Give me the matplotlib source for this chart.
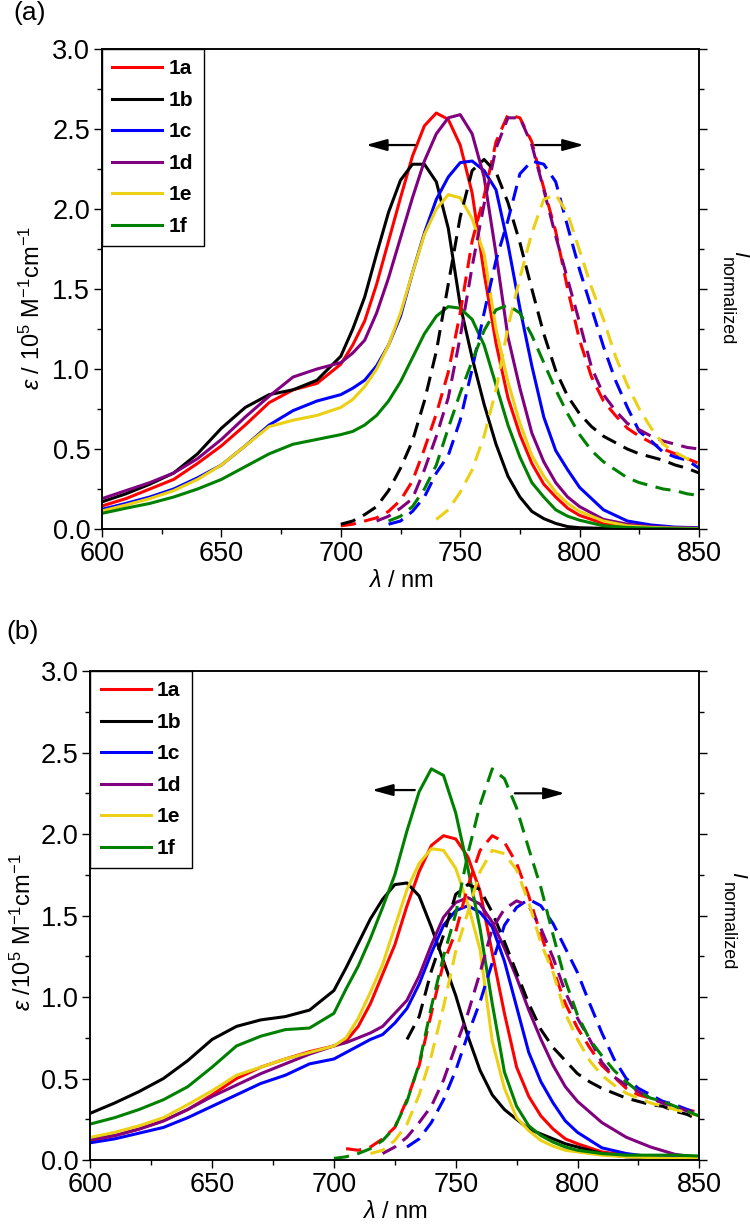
"""
Absorption (solid) and emission (dashed) spectra of 1a-1f, two panels.
"""
import numpy as np
import matplotlib
matplotlib.use('Agg')
import matplotlib.pyplot as plt
from matplotlib.ticker import MultipleLocator, FormatStrFormatter

nan = np.nan

labels = ['1a', '1b', '1c', '1d', '1e', '1f']
colors = ['#ff0000', '#000000', '#0000ff', '#800080', '#ecd014', '#008000']

# wavelength grids (nm)
abs_wl = [600, 610, 620, 630, 640, 650, 660, 670, 680, 690, 700, 705, 710, 715, 720, 725,
          730, 735, 740, 745, 750, 755, 760, 765, 770, 775, 780, 785, 790, 795, 800, 810,
          820, 830, 840, 850]
em_wl = [700, 705, 710, 715, 720, 725, 730, 735, 740, 745, 750, 755, 760, 765, 770, 775,
         780, 785, 790, 795, 800, 805, 810, 815, 820, 825, 830, 835, 840, 845, 850]

# ---- panel (a): absorption, eps / 1e5 M-1 cm-1
a_abs_1a = [0.144, 0.19, 0.25, 0.31, 0.41, 0.52, 0.65, 0.79, 0.87, 0.91, 1.03, 1.15, 1.30, 1.53,
            1.80, 2.07, 2.33, 2.52, 2.60, 2.56, 2.40, 2.10, 1.60, 1.16, 0.82, 0.59, 0.41, 0.28,
            0.20, 0.13, 0.085, 0.035, 0.015, 0.008, 0.005, 0.003]
a_abs_1b = [0.17, 0.22, 0.28, 0.35, 0.47, 0.63, 0.76, 0.84, 0.87, 0.93, 1.08, 1.25, 1.45, 1.72,
            1.98, 2.18, 2.28, 2.28, 2.17, 1.88, 1.40, 1.07, 0.78, 0.53, 0.33, 0.20, 0.11, 0.065,
            0.035, 0.015, 0.008, 0.004, 0.002, 0.001, 0.0, 0.0]
a_abs_1c = [0.123, 0.16, 0.20, 0.25, 0.32, 0.40, 0.52, 0.65, 0.74, 0.80, 0.84, 0.88, 0.93, 1.02,
            1.15, 1.33, 1.60, 1.85, 2.06, 2.20, 2.29, 2.30, 2.24, 2.12, 1.78, 1.38, 1.02, 0.70,
            0.49, 0.37, 0.26, 0.12, 0.05, 0.025, 0.012, 0.008]
a_abs_1d = [0.19, 0.24, 0.29, 0.35, 0.44, 0.56, 0.70, 0.83, 0.95, 1.00, 1.04, 1.10, 1.18, 1.35,
            1.57, 1.82, 2.07, 2.30, 2.47, 2.57, 2.59, 2.47, 2.20, 1.72, 1.20, 0.88, 0.60, 0.42,
            0.29, 0.20, 0.14, 0.06, 0.03, 0.015, 0.008, 0.005]
a_abs_1e = [0.113, 0.15, 0.19, 0.24, 0.31, 0.40, 0.52, 0.64, 0.68, 0.71, 0.76, 0.81, 0.89, 1.00,
            1.15, 1.35, 1.60, 1.84, 2.00, 2.09, 2.07, 1.94, 1.72, 1.25, 0.92, 0.66, 0.46, 0.33,
            0.23, 0.16, 0.11, 0.05, 0.02, 0.01, 0.005, 0.003]
a_abs_1f = [0.098, 0.13, 0.16, 0.20, 0.25, 0.31, 0.39, 0.47, 0.53, 0.56, 0.59, 0.61, 0.65, 0.71,
            0.80, 0.92, 1.07, 1.22, 1.33, 1.39, 1.38, 1.31, 1.15, 0.90, 0.65, 0.45, 0.29, 0.20,
            0.12, 0.08, 0.055, 0.02, 0.01, 0.005, 0.002, 0.0]

# ---- panel (a): emission, normalized
a_em_1a = [0.02, 0.03, 0.05, 0.07, 0.11, 0.18, 0.30, 0.50, 0.72, 0.98, 1.35, 1.80, 2.08, 2.42,
           2.59, 2.57, 2.42, 2.13, 1.86, 1.50, 1.18, 0.95, 0.80, 0.71, 0.63, 0.58, 0.54, 0.50,
           0.47, 0.44, 0.41]
a_em_1b = [0.03, 0.05, 0.09, 0.14, 0.24, 0.38, 0.55, 0.80, 1.11, 1.53, 1.95, 2.24, 2.31, 2.23,
           2.04, 1.79, 1.50, 1.22, 0.99, 0.83, 0.72, 0.64, 0.58, 0.54, 0.50, 0.47, 0.45, 0.43,
           0.40, 0.38, 0.35]
a_em_1c = [nan, nan, nan, nan, 0.03, 0.05, 0.11, 0.20, 0.35, 0.46, 0.68, 1.00, 1.35, 1.68,
           1.93, 2.22, 2.30, 2.28, 2.17, 1.89, 1.62, 1.38, 1.14, 0.93, 0.76, 0.61, 0.55, 0.48,
           0.45, 0.43, 0.38]
a_em_1d = [nan, nan, nan, 0.05, 0.08, 0.13, 0.19, 0.37, 0.58, 0.82, 1.20, 1.64, 2.03, 2.38,
           2.57, 2.57, 2.40, 2.12, 1.83, 1.56, 1.29, 1.01, 0.84, 0.74, 0.66, 0.62, 0.58, 0.55,
           0.53, 0.51, 0.50]
a_em_1e = [nan, nan, nan, nan, nan, nan, nan, nan, 0.06, 0.12, 0.23, 0.37, 0.58, 0.87, 1.26,
           1.57, 1.85, 2.06, 2.09, 1.97, 1.74, 1.51, 1.31, 1.08, 0.90, 0.75, 0.63, 0.53, 0.48,
           0.44, 0.41]
a_em_1f = [nan, nan, nan, nan, 0.05, 0.08, 0.14, 0.25, 0.40, 0.63, 0.85, 1.05, 1.24, 1.37,
           1.40, 1.35, 1.21, 1.04, 0.87, 0.72, 0.59, 0.49, 0.42, 0.37, 0.32, 0.29, 0.27, 0.25,
           0.24, 0.22, 0.21]

# ---- panel (b): absorption
b_abs_1a = [0.118, 0.15, 0.19, 0.24, 0.31, 0.40, 0.50, 0.57, 0.62, 0.665, 0.70, 0.73, 0.82, 0.96,
            1.14, 1.32, 1.56, 1.77, 1.93, 1.99, 1.97, 1.86, 1.65, 1.27, 0.90, 0.57, 0.39, 0.27,
            0.19, 0.13, 0.10, 0.05, 0.03, 0.02, 0.015, 0.01]
b_abs_1b = [0.287, 0.35, 0.42, 0.50, 0.61, 0.74, 0.82, 0.86, 0.88, 0.92, 1.04, 1.18, 1.33, 1.48,
            1.60, 1.69, 1.70, 1.62, 1.43, 1.22, 1.01, 0.76, 0.55, 0.40, 0.31, 0.25, 0.19, 0.16,
            0.13, 0.10, 0.08, 0.04, 0.02, 0.015, 0.01, 0.01]
b_abs_1c = [0.106, 0.13, 0.165, 0.20, 0.26, 0.33, 0.40, 0.47, 0.52, 0.59, 0.62, 0.66, 0.70, 0.74,
            0.77, 0.84, 0.93, 1.08, 1.27, 1.44, 1.53, 1.56, 1.52, 1.43, 1.22, 0.94, 0.66, 0.48,
            0.35, 0.24, 0.17, 0.075, 0.04, 0.02, 0.015, 0.01]
b_abs_1d = [0.128, 0.15, 0.19, 0.24, 0.31, 0.39, 0.46, 0.53, 0.59, 0.65, 0.70, 0.72, 0.75, 0.78,
            0.82, 0.90, 0.98, 1.13, 1.32, 1.49, 1.58, 1.61, 1.57, 1.46, 1.30, 1.12, 0.92, 0.74,
            0.58, 0.45, 0.36, 0.23, 0.14, 0.08, 0.035, 0.015]
b_abs_1e = [0.139, 0.17, 0.21, 0.26, 0.34, 0.425, 0.52, 0.57, 0.62, 0.66, 0.70, 0.75, 0.87, 1.03,
            1.20, 1.43, 1.66, 1.82, 1.91, 1.90, 1.79, 1.57, 1.29, 0.73, 0.44, 0.26, 0.18, 0.12,
            0.085, 0.06, 0.05, 0.03, 0.02, 0.015, 0.01, 0.01]
b_abs_1f = [0.221, 0.26, 0.31, 0.37, 0.45, 0.57, 0.70, 0.76, 0.80, 0.81, 0.90, 1.05, 1.19, 1.36,
            1.55, 1.75, 2.02, 2.26, 2.40, 2.36, 2.13, 1.79, 1.42, 0.96, 0.54, 0.33, 0.21, 0.15,
            0.11, 0.08, 0.06, 0.04, 0.03, 0.03, 0.03, 0.025]

# ---- panel (b): emission
b_em_1a = [nan, 0.07, 0.06, 0.08, 0.13, 0.20, 0.37, 0.58, 0.90, 1.21, 1.40, 1.68, 1.90, 1.99,
           1.95, 1.82, 1.62, 1.38, 1.17, 0.96, 0.81, 0.69, 0.58, 0.51, 0.44, 0.40, 0.38, 0.35,
           0.33, 0.31, 0.29]
b_em_1b = [nan, nan, nan, nan, nan, nan, 0.74, 0.88, 1.16, 1.38, 1.63, 1.69, 1.66, 1.52, 1.34,
           1.15, 0.96, 0.80, 0.69, 0.61, 0.53, 0.48, 0.44, 0.41, 0.38, 0.36, 0.34, 0.33, 0.30,
           0.28, 0.245]
b_em_1c = [nan, nan, nan, nan, nan, nan, 0.08, 0.13, 0.23, 0.37, 0.55, 0.77, 0.97, 1.21, 1.44,
           1.55, 1.60, 1.56, 1.45, 1.30, 1.15, 0.96, 0.78, 0.62, 0.50, 0.44, 0.40, 0.36, 0.34,
           0.31, 0.28]
b_em_1d = [nan, nan, nan, nan, 0.04, 0.08, 0.14, 0.23, 0.33, 0.49, 0.70, 0.90, 1.15, 1.42,
           1.54, 1.59, 1.56, 1.42, 1.24, 1.03, 0.87, 0.74, 0.60, 0.51, 0.46, 0.42, 0.38, 0.35,
           0.33, 0.30, 0.28]
b_em_1e = [nan, nan, nan, 0.04, 0.06, 0.12, 0.22, 0.40, 0.64, 0.94, 1.28, 1.52, 1.77, 1.90,
           1.88, 1.78, 1.58, 1.33, 1.15, 0.90, 0.74, 0.61, 0.52, 0.46, 0.41, 0.38, 0.35, 0.33,
           0.31, 0.29, 0.27]
b_em_1f = [0.01, 0.02, 0.04, 0.07, 0.12, 0.20, 0.36, 0.59, 0.94, 1.25, 1.51, 1.88, 2.18, 2.40,
           2.34, 2.16, 1.91, 1.67, 1.38, 1.10, 0.89, 0.74, 0.64, 0.55, 0.48, 0.42, 0.38, 0.36,
           0.33, 0.30, 0.27]

TICK_FS = 19.5
LABEL_FS = 17


def style_axes(ax, ax_r):
    for a in (ax, ax_r):
        a.set_xlim(600, 850)
        a.set_ylim(0, 3.0)
        for s in a.spines.values():
            s.set_linewidth(1.1)
    ax.xaxis.set_major_locator(MultipleLocator(50))
    ax.xaxis.set_minor_locator(MultipleLocator(25))
    ax.yaxis.set_major_locator(MultipleLocator(0.5))
    ax.yaxis.set_minor_locator(MultipleLocator(0.25))
    ax.yaxis.set_major_formatter(FormatStrFormatter('%.1f'))
    ax.tick_params(which='both', direction='out', width=1.0, labelsize=TICK_FS,
                   top=False, right=False, pad=2.5)
    ax.tick_params(which='major', length=6)
    ax.tick_params(which='minor', length=3.5)
    ax_r.yaxis.set_major_locator(MultipleLocator(0.5))
    ax_r.yaxis.set_minor_locator(MultipleLocator(0.25))
    ax_r.tick_params(which='both', direction='out', width=1.0, labelright=False)
    ax_r.tick_params(which='major', length=6)
    ax_r.tick_params(which='minor', length=3.5)


def plot_panel(fig, rect, abs_sets, em_sets, ylabel, ylabel_xy, i_xy, norm_xy, arrows,
               tag, tag_xy):
    ax = fig.add_axes(rect)
    ax_r = ax.twinx()
    handles = []
    for lab, col, yv in zip(labels, colors, abs_sets):
        h, = ax.plot(abs_wl, yv, color=col, lw=2.2, label=lab)
        handles.append(h)
    for col, yv in zip(colors, em_sets):
        ax_r.plot(em_wl, yv, color=col, lw=2.2, linestyle=(0, (5.0, 2.8)))
    style_axes(ax, ax_r)

    ax.set_xlabel(r'$\lambda$ / nm', fontsize=LABEL_FS, labelpad=2)
    ax.set_ylabel(ylabel, fontsize=LABEL_FS)
    ax.yaxis.set_label_coords(*ylabel_xy)

    # right axis title: italic I with "normalized" set below its baseline
    ax_r.text(i_xy[0], i_xy[1], 'I', transform=ax_r.transAxes, rotation=270,
              fontsize=15, fontstyle='italic', ha='center', va='center', clip_on=False)
    ax_r.text(norm_xy[0], norm_xy[1], 'normalized', transform=ax_r.transAxes, rotation=270,
              fontsize=13, ha='center', va='center', clip_on=False)

    leg = ax_r.legend(handles=handles, loc='upper left', bbox_to_anchor=(0, 1),
                      borderaxespad=0, fancybox=False, framealpha=1, edgecolor='black',
                      handlelength=2.4, handletextpad=0.3, labelspacing=0.6,
                      borderpad=0.5, prop={'weight': 'bold', 'size': 15})
    leg.get_frame().set_linewidth(1.0)

    for x0, x1, y in arrows:
        ax.annotate('', xy=(x1, y), xytext=(x0, y),
                    arrowprops=dict(arrowstyle='-|>,head_length=0.9,head_width=0.25',
                                    mutation_scale=14, color='black', lw=1.6,
                                    shrinkA=0, shrinkB=0))
    fig.text(tag_xy[0], tag_xy[1], tag, fontsize=19, ha='left', va='top')
    return ax


def main():
    plt.rcParams['font.family'] = ['Liberation Sans', 'DejaVu Sans']
    plt.rcParams['mathtext.fontset'] = 'custom'
    plt.rcParams['mathtext.rm'] = 'Liberation Sans'
    plt.rcParams['mathtext.it'] = 'Liberation Sans:italic'
    plt.rcParams['mathtext.bf'] = 'Liberation Sans:bold'

    fig = plt.figure(figsize=(7.5, 12.32), dpi=100)

    plot_panel(fig, [0.136, 0.5706, 0.796, 0.3896],
               [a_abs_1a, a_abs_1b, a_abs_1c, a_abs_1d, a_abs_1e, a_abs_1f],
               [a_em_1a, a_em_1b, a_em_1c, a_em_1d, a_em_1e, a_em_1f],
               r'$\varepsilon$ / 10$^5$ M$^{-1}$cm$^{-1}$', (-0.095, 0.46),
               (1.0687, 0.574), (1.046, 0.475),
               [(731, 710.5, 2.40), (781.3, 801.8, 2.40)], '(a)', (0.018, 0.999))

    plot_panel(fig, [0.1204, 0.0584, 0.812, 0.3969],
               [b_abs_1a, b_abs_1b, b_abs_1c, b_abs_1d, b_abs_1e, b_abs_1f],
               [b_em_1a, b_em_1b, b_em_1c, b_em_1d, b_em_1e, b_em_1f],
               r'$\varepsilon$ /10$^5$ M$^{-1}$cm$^{-1}$', (-0.089, 0.466),
               (1.0636, 0.583), (1.0455, 0.4785),
               [(733.2, 715.6, 2.27), (774.3, 794.8, 2.25)], '(b)', (0.008, 0.497))

    fig.savefig('out.png', dpi=100)


if __name__ == '__main__':
    main()
